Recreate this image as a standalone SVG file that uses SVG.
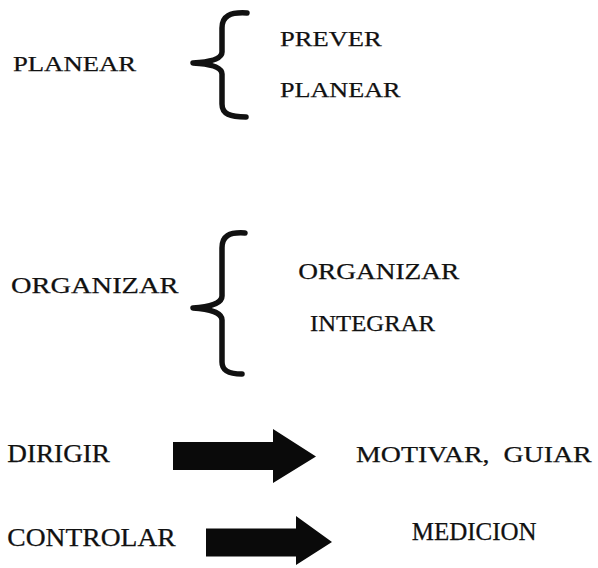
<svg xmlns="http://www.w3.org/2000/svg" width="598" height="568" viewBox="0 0 598 568">
  <style>
    .lbl { font-family: "Liberation Serif", "Times New Roman", serif; fill: #111; stroke: #111; stroke-width: 0.25; }
    .brace { fill: none; stroke: #111; stroke-width: 5.5; stroke-linecap: round; stroke-linejoin: round; }
    .arrow { fill: #0a0a0a; }
  </style>
  <rect width="598" height="568" fill="#ffffff"/>

  <!-- functions of administration, left column -->
  <g id="planear">
    <text class="lbl" x="13" y="70.7" font-size="21.5" textLength="123" lengthAdjust="spacingAndGlyphs">PLANEAR</text>
  </g>
  <g id="organizar">
    <text class="lbl" x="11" y="292.5" font-size="23.5" textLength="167.5" lengthAdjust="spacingAndGlyphs">ORGANIZAR</text>
  </g>
  <g id="dirigir">
    <text class="lbl" x="7.3" y="462" font-size="24.5" textLength="102.7" lengthAdjust="spacingAndGlyphs">DIRIGIR</text>
  </g>
  <g id="controlar">
    <text class="lbl" x="7.3" y="546.3" font-size="24.5" textLength="168.4" lengthAdjust="spacingAndGlyphs">CONTROLAR</text>
  </g>

  <!-- sub-activities, right column -->
  <g id="prever">
    <text class="lbl" x="280" y="45.7" font-size="22" textLength="101.7" lengthAdjust="spacingAndGlyphs">PREVER</text>
  </g>
  <g id="planear-sub">
    <text class="lbl" x="280" y="96.7" font-size="22" textLength="120.5" lengthAdjust="spacingAndGlyphs">PLANEAR</text>
  </g>
  <g id="organizar-sub">
    <text class="lbl" x="298.3" y="279.3" font-size="22.5" textLength="161" lengthAdjust="spacingAndGlyphs">ORGANIZAR</text>
  </g>
  <g id="integrar">
    <text class="lbl" x="310" y="331" font-size="22.5" textLength="125" lengthAdjust="spacingAndGlyphs">INTEGRAR</text>
  </g>
  <g id="motivar-guiar">
    <text class="lbl" x="356" y="461.5" font-size="23.5" textLength="235.7" lengthAdjust="spacingAndGlyphs" xml:space="preserve">MOTIVAR,  GUIAR</text>
  </g>
  <g id="medicion">
    <text class="lbl" x="411.7" y="540" font-size="24.5" textLength="125" lengthAdjust="spacingAndGlyphs">MEDICION</text>
  </g>

  <!-- connectors: braces and block arrows -->
  <g id="connectors">
    <path class="brace" d="M247,13 C230,12 222,16 222,28 L222,52 C222,59 210,62 193,63 C210,64 222,67 222,74 L222,104 C222,114 230,117 246,117"/>
    <path class="brace" d="M245,233 C229,232 222,236 222,248 L222,296 C222,303 210,307 193,308 C210,309 222,313 222,320 L222,362 C222,371 229,374 242,374"/>
    <polygon class="arrow" points="173,442 273,442 273,429 316,456.5 273,483 273,470 173,470"/>
    <polygon class="arrow" points="206,528.5 296,528.5 296,516 332,542 296,565 296,556.5 206,556.5"/>
  </g>
</svg>
